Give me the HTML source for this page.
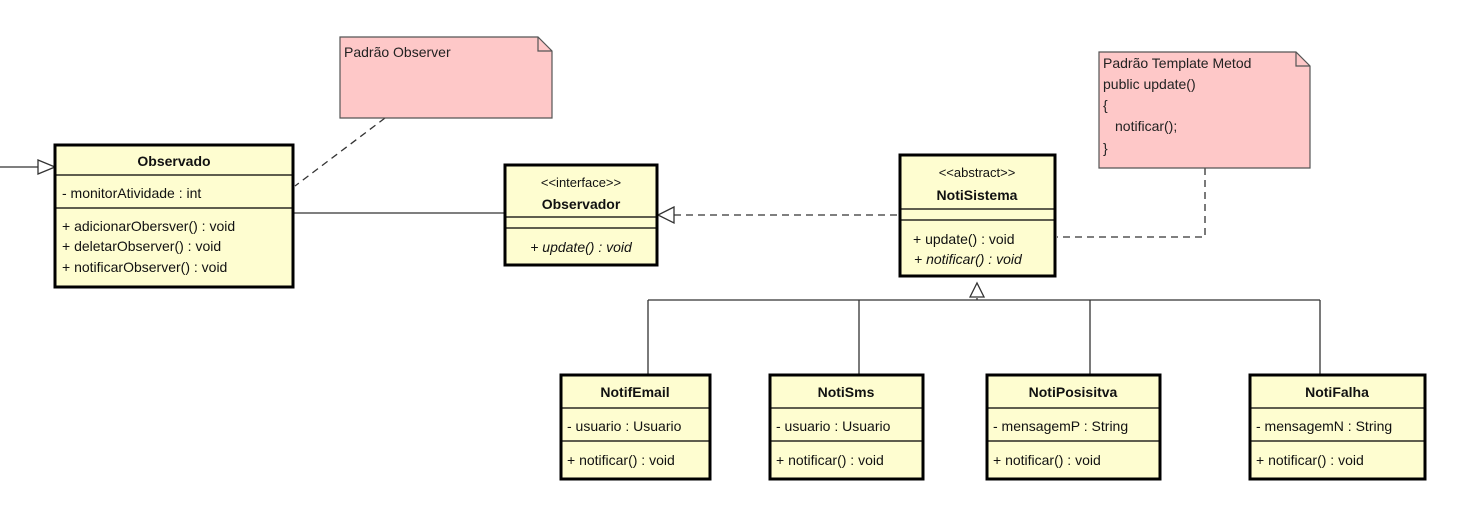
<!DOCTYPE html>
<html><head><meta charset="utf-8"><style>
html,body{margin:0;padding:0;background:#fff;}
svg{display:block;font-family:"Liberation Sans",Arial,sans-serif;}
</style></head><body>
<svg width="1473" height="511" viewBox="0 0 1473 511" xmlns="http://www.w3.org/2000/svg">
<rect width="1473" height="511" fill="#fff"/>
<g stroke="#333" stroke-width="1.3" fill="none">
<line x1="0" y1="167" x2="38" y2="167"/>
<polygon points="38,160 55,167 38,174" fill="#fff"/>
<line x1="293" y1="213" x2="505" y2="213"/>
<line x1="674" y1="215" x2="900" y2="215" stroke-dasharray="7,5"/>
<polygon points="674,207 658,215 674,223" fill="#fff"/>
<line x1="385" y1="118" x2="295" y2="186" stroke-dasharray="7,5"/>
<polyline points="1205,168 1205,237 1057,237" stroke-dasharray="7,5"/>
<line x1="977" y1="298" x2="977" y2="300"/>
<polygon points="970,297 977,283 984,297" fill="#fff"/>
<line x1="648" y1="300" x2="1320" y2="300"/>
<line x1="648" y1="300" x2="648" y2="375"/>
<line x1="859" y1="300" x2="859" y2="375"/>
<line x1="1090" y1="300" x2="1090" y2="375"/>
<line x1="1320" y1="300" x2="1320" y2="375"/>
</g>
<circle cx="283" cy="190" r="2.6" fill="#000"/>
<circle cx="1046" cy="238" r="2.6" fill="#000"/>

<g stroke="#555" stroke-width="1.2">
<path d="M340,37 L538,37 L552,51 L552,118 L340,118 Z" fill="#fec8c8"/>
<path d="M538,37 L538,51 L552,51" fill="none"/>
<path d="M1099,52 L1296,52 L1310,66 L1310,168 L1099,168 Z" fill="#fec8c8"/>
<path d="M1296,52 L1296,66 L1310,66" fill="none"/>
</g>
<g font-size="14" fill="#222">
<text x="344" y="57">Padrão Observer</text>
<text x="1103" y="68">Padrão Template Metod</text>
<text x="1103" y="89">public update()</text>
<text x="1103" y="110">{</text>
<text x="1115" y="131">notificar();</text>
<text x="1103" y="153">}</text>
</g>

<g stroke="#000" fill="#fefdd0">
<rect x="55" y="145" width="238" height="142" stroke-width="3"/>
<rect x="505" y="165" width="152" height="100" stroke-width="3"/>
<rect x="900" y="155" width="155" height="121" stroke-width="3"/>
<rect x="561" y="375" width="149" height="104" stroke-width="3"/>
<rect x="770" y="375" width="153" height="104" stroke-width="3"/>
<rect x="987" y="375" width="173" height="104" stroke-width="3"/>
<rect x="1250" y="375" width="175" height="104" stroke-width="3"/>
</g>
<g stroke="#000" stroke-width="1.2">
<line x1="55" y1="175" x2="293" y2="175"/><line x1="55" y1="208" x2="293" y2="208"/>
<line x1="505" y1="217" x2="657" y2="217"/><line x1="505" y1="228" x2="657" y2="228"/>
<line x1="900" y1="209" x2="1055" y2="209"/><line x1="900" y1="220" x2="1055" y2="220"/>
<line x1="561" y1="408" x2="710" y2="408"/><line x1="561" y1="441" x2="710" y2="441"/>
<line x1="770" y1="408" x2="923" y2="408"/><line x1="770" y1="441" x2="923" y2="441"/>
<line x1="987" y1="408" x2="1160" y2="408"/><line x1="987" y1="441" x2="1160" y2="441"/>
<line x1="1250" y1="408" x2="1425" y2="408"/><line x1="1250" y1="441" x2="1425" y2="441"/>
</g>
<g font-size="14" fill="#111">
<text x="174" y="166" text-anchor="middle" font-weight="bold">Observado</text>
<text x="62" y="198">- monitorAtividade : int</text>
<text x="62" y="231">+ adicionarObersver() : void</text>
<text x="62" y="251">+ deletarObserver() : void</text>
<text x="62" y="272">+ notificarObserver() : void</text>

<text x="581" y="187" text-anchor="middle" font-size="13">&lt;&lt;interface&gt;&gt;</text>
<text x="581" y="209" text-anchor="middle" font-weight="bold">Observador</text>
<text x="581" y="252" text-anchor="middle" font-style="italic">+ update() : void</text>

<text x="977" y="177" text-anchor="middle" font-size="13">&lt;&lt;abstract&gt;&gt;</text>
<text x="977" y="200" text-anchor="middle" font-weight="bold">NotiSistema</text>
<text x="913" y="244">+ update() : void</text>
<text x="914" y="264" font-style="italic">+ notificar() : void</text>

<text x="635" y="397" text-anchor="middle" font-weight="bold">NotifEmail</text>
<text x="567" y="431">- usuario : Usuario</text>
<text x="567" y="465">+ notificar() : void</text>

<text x="846" y="397" text-anchor="middle" font-weight="bold">NotiSms</text>
<text x="776" y="431">- usuario : Usuario</text>
<text x="776" y="465">+ notificar() : void</text>

<text x="1073" y="397" text-anchor="middle" font-weight="bold">NotiPosisitva</text>
<text x="993" y="431">- mensagemP : String</text>
<text x="993" y="465">+ notificar() : void</text>

<text x="1337" y="397" text-anchor="middle" font-weight="bold">NotiFalha</text>
<text x="1256" y="431">- mensagemN : String</text>
<text x="1256" y="465">+ notificar() : void</text>
</g>
</svg>
</body></html>
